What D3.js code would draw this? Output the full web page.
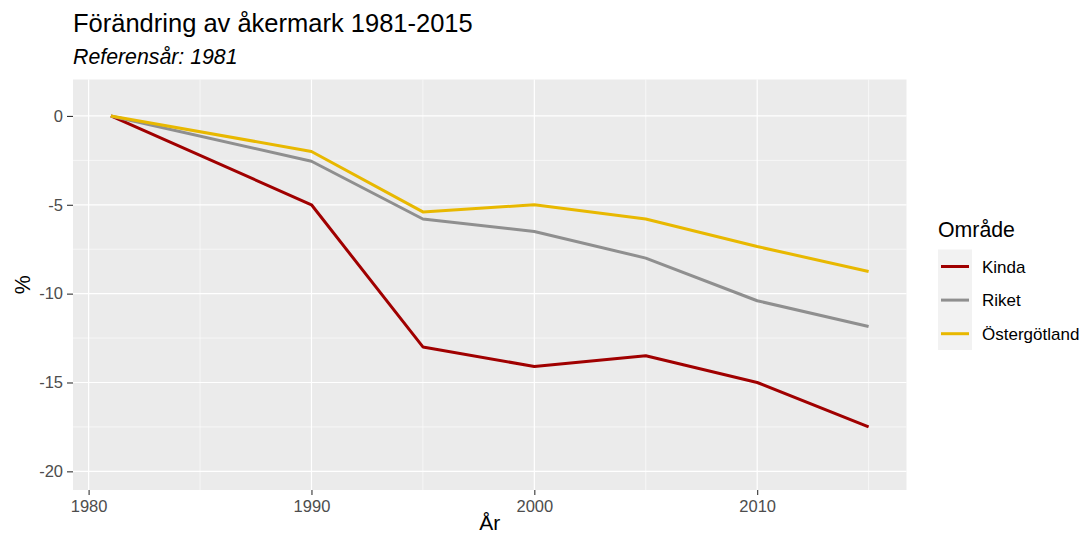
<!DOCTYPE html>
<html>
<head>
<meta charset="utf-8">
<script src="https://cdn.jsdelivr.net/npm/d3@7"></script>
<style>
  body { margin: 0; background: #fff; }
  svg { display: block; font-family: "Liberation Sans", Arial, sans-serif; }
</style>
</head>
<body>
<div id="chart"></div>
<script>
// data
const years = [1981, 1990, 1995, 2000, 2005, 2010, 2015];
const kinda = [0, -5.0, -13.0, -14.1, -13.5, -15.0, -17.5];
const riket = [0, -2.55, -5.8, -6.5, -8.0, -10.4, -11.85];
const ostergotland = [0, -2.0, -5.4, -5.0, -5.8, -7.35, -8.75];
const seriesNames = ['Kinda', 'Riket', 'Östergötland'];
const seriesColors = ['#a00000', '#8f8f8f', '#e8b800'];
const xTicks = [1980, 1990, 2000, 2010];
const yTicks = [0, -5, -10, -15, -20];

const width = 1081, height = 537;
const panel = { left: 73, right: 906.5, top: 79.5, bottom: 490 };

const svg = d3.select('#chart').append('svg')
  .attr('width', width)
  .attr('height', height);

const x = d3.scaleLinear().domain([1979.3, 2016.7]).range([panel.left, panel.right]);
const y = d3.scaleLinear().domain([-21.05, 2.05]).range([panel.bottom, panel.top]);

// panel background
svg.append('rect')
  .attr('x', panel.left)
  .attr('y', panel.top)
  .attr('width', panel.right - panel.left)
  .attr('height', panel.bottom - panel.top)
  .attr('fill', '#ebebeb');

// minor grid
const xMinor = [1985, 1995, 2005, 2015];
const yMinor = [-2.5, -7.5, -12.5, -17.5];
svg.append('g').selectAll('line').data(xMinor).enter().append('line')
  .attr('x1', d => x(d)).attr('x2', d => x(d))
  .attr('y1', panel.top).attr('y2', panel.bottom)
  .attr('stroke', '#fff').attr('stroke-width', 0.6);
svg.append('g').selectAll('line').data(yMinor).enter().append('line')
  .attr('x1', panel.left).attr('x2', panel.right)
  .attr('y1', d => y(d)).attr('y2', d => y(d))
  .attr('stroke', '#fff').attr('stroke-width', 0.6);

// major grid
svg.append('g').selectAll('line').data(xTicks).enter().append('line')
  .attr('x1', d => x(d)).attr('x2', d => x(d))
  .attr('y1', panel.top).attr('y2', panel.bottom)
  .attr('stroke', '#fff').attr('stroke-width', 1.2);
svg.append('g').selectAll('line').data(yTicks).enter().append('line')
  .attr('x1', panel.left).attr('x2', panel.right)
  .attr('y1', d => y(d)).attr('y2', d => y(d))
  .attr('stroke', '#fff').attr('stroke-width', 1.2);

// axes
const xAxis = svg.append('g')
  .attr('transform', `translate(0,${panel.bottom})`)
  .call(d3.axisBottom(x).tickValues(xTicks).tickFormat(d3.format('d')).tickSize(5).tickPadding(5));
const yAxis = svg.append('g')
  .attr('transform', `translate(${panel.left},0)`)
  .call(d3.axisLeft(y).tickValues(yTicks).tickFormat(d => d).tickSize(6).tickPadding(4));
[xAxis, yAxis].forEach(a => {
  a.select('.domain').remove();
  a.selectAll('line').attr('stroke', '#333').attr('stroke-width', 1.1);
  a.selectAll('text').attr('fill', '#4d4d4d').style('font-size', '16.5px').style('font-family', '"Liberation Sans", Arial, sans-serif');
});

// lines
const allSeries = [kinda, riket, ostergotland];
const line = d3.line()
  .x((d, i) => x(years[i]))
  .y(d => y(d));
svg.append('g').selectAll('path').data(allSeries).enter().append('path')
  .attr('d', d => line(d))
  .attr('fill', 'none')
  .attr('stroke', (d, i) => seriesColors[i])
  .attr('stroke-width', 3)
  .attr('stroke-linejoin', 'round');

// titles
svg.append('text')
  .attr('x', 73).attr('y', 32)
  .style('font-size', '25.5px')
  .attr('fill', '#000')
  .text('Förändring av åkermark 1981-2015');
svg.append('text')
  .attr('x', 73).attr('y', 64)
  .style('font-size', '21.3px')
  .style('font-style', 'italic')
  .attr('fill', '#000')
  .text('Referensår: 1981');

// axis titles
svg.append('text')
  .attr('x', (panel.left + panel.right) / 2).attr('y', 530)
  .attr('text-anchor', 'middle')
  .style('font-size', '21px')
  .text('År');
svg.append('text')
  .attr('transform', `translate(30,${(panel.top + panel.bottom) / 2}) rotate(-90)`)
  .attr('text-anchor', 'middle')
  .style('font-size', '21.3px')
  .text('%');

// legend
const legend = svg.append('g').attr('transform', 'translate(938,0)');
legend.append('text')
  .attr('x', 0).attr('y', 237)
  .style('font-size', '21.3px')
  .text('Område');
legend.append('rect')
  .attr('x', 0).attr('y', 249.5)
  .attr('width', 34).attr('height', 100.5)
  .attr('fill', '#f2f2f2');
const keys = legend.selectAll('.key').data(seriesNames).enter().append('g')
  .attr('class', 'key')
  .attr('transform', (d, i) => `translate(0,${266.5 + i * 33.6})`);
keys.append('line')
  .attr('x1', 3).attr('x2', 31)
  .attr('stroke', (d, i) => seriesColors[i])
  .attr('stroke-width', 3);
keys.append('text')
  .attr('x', 44).attr('y', 6)
  .style('font-size', '17px')
  .text(d => d);
</script>
</body>
</html>
